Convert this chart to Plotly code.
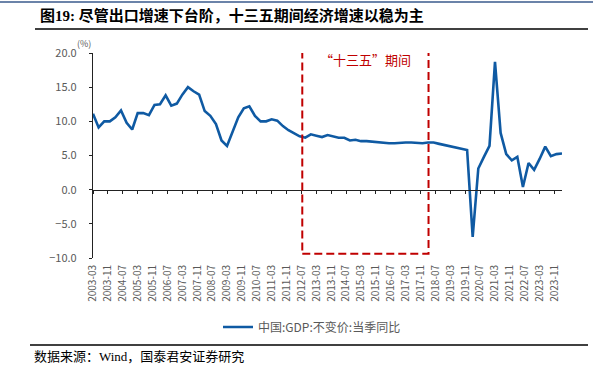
import plotly.graph_objects as go

# ---------------- data ----------------
years = list(range(2003, 2025))
quarter_months = ["03", "06", "09", "12"]
quarters = [f"{y}-{m}" for y in years for m in quarter_months][:85]  # 2003-03 .. 2024-03

gdp_yoy = [
    11.1, 9.1, 10.0, 10.0,      # 2003
    10.6, 11.6, 9.8, 8.8,       # 2004
    11.2, 11.2, 10.9, 12.4,     # 2005
    12.5, 13.8, 12.3, 12.6,     # 2006
    13.9, 15.0, 14.4, 13.9,     # 2007
    11.5, 10.8, 9.6, 7.2,       # 2008
    6.4, 8.4, 10.6, 11.9,       # 2009
    12.2, 10.8, 10.0, 10.0,     # 2010
    10.3, 10.1, 9.3, 8.7,       # 2011
    8.2, 7.8, 7.6, 8.1,         # 2012
    7.9, 7.7, 8.0, 7.8,         # 2013
    7.6, 7.6, 7.2, 7.3,         # 2014
    7.1, 7.1, 7.0, 6.9,         # 2015
    6.9, 6.8, 6.8, 6.9,         # 2016
    6.9, 6.9, 6.8, 6.8,         # 2017
    6.9, 6.9, 6.7, 6.5,         # 2018
    6.3, 6.1, 5.9, 5.8,         # 2019
    -6.9, 3.1, 4.8, 6.4,        # 2020
    18.7, 8.3, 5.2, 4.3,        # 2021
    4.8, 0.4, 3.9, 2.9,         # 2022
    4.5, 6.3, 4.9, 5.2,         # 2023
    5.3,                        # 2024
]

x_tick_labels = [
    "2003-03", "2003-11", "2004-07", "2005-03", "2005-11", "2006-07", "2007-03",
    "2007-11", "2008-07", "2009-03", "2009-11", "2010-07", "2011-03", "2011-11",
    "2012-07", "2013-03", "2013-11", "2014-07", "2015-03", "2015-11", "2016-07",
    "2017-03", "2017-11", "2018-07", "2019-03", "2019-11", "2020-07", "2021-03",
    "2021-11", "2022-07", "2023-03", "2023-11",
]
y_ticks = [-10, -5, 0, 5, 10, 15, 20]

series_name = "中国:GDP:不变价:当季同比"
title_text = "图19: 尽管出口增速下台阶，十三五期间经济增速以稳为主"
source_text = "数据来源：Wind，国泰君安证券研究"
box_label = "“十三五”期间"

# ---------------- style ----------------
LINE_BLUE = "#0F5AA3"
GRAY = "#595959"
RED = "#C00000"
CJK = "Noto Sans CJK SC"
SERIF_CJK = "Liberation Serif, Noto Sans CJK SC"

x_range = ["2003-03-01", "2024-03-01"]
y_range = [-10, 20]
zero_pos = (0 - y_range[0]) / (y_range[1] - y_range[0])

fig = go.Figure()

fig.add_trace(go.Scatter(
    x=quarters, y=gdp_yoy, mode="lines", name=series_name,
    line=dict(color=LINE_BLUE, width=2.6),
    xaxis="x", yaxis="y", showlegend=True,
))
# invisible twin so that the bottom label axis is drawn
fig.add_trace(go.Scatter(
    x=quarters, y=gdp_yoy, mode="lines", line=dict(width=0),
    opacity=0, xaxis="x2", yaxis="y", showlegend=False, hoverinfo="skip",
))

W, H = 593, 375
L, R, T, B = 93, 31, 53, 117
pw, ph = W - L - R, H - T - B


def px(xp):
    return (xp - L) / pw


def py(yp):
    return (H - B - yp) / ph


fig.update_layout(
    width=W, height=H,
    margin=dict(l=L, r=R, t=T, b=B, pad=0),
    paper_bgcolor="white", plot_bgcolor="white",
    font=dict(family=CJK, color=GRAY),
    xaxis=dict(
        type="date", range=x_range, anchor="free", position=zero_pos,
        showline=True, linecolor="#222222", linewidth=1.2,
        ticks="outside", ticklen=3, tickcolor="#222222", tickwidth=1,
        tickvals=x_tick_labels, showticklabels=False,
        showgrid=False, zeroline=False,
    ),
    xaxis2=dict(
        type="date", range=x_range, overlaying="x", anchor="y", side="bottom",
        showline=False, ticks="", tickvals=x_tick_labels, ticktext=x_tick_labels,
        tickangle=-90, tickfont=dict(size=10, color=GRAY, family=CJK),
        ticklabelstandoff=4, showgrid=False, zeroline=False,
    ),
    yaxis=dict(
        range=y_range, tickvals=y_ticks, tickformat=".1f",
        showline=True, linecolor="#222222", linewidth=1.2,
        ticks="outside", ticklen=3, tickcolor="#222222",
        tickfont=dict(size=11, color=GRAY, family=CJK),
        ticklabelstandoff=10, showgrid=False, zeroline=False,
    ),
    legend=dict(
        orientation="h", x=px(218), xanchor="left", y=py(327), yanchor="middle",
        font=dict(size=12, color=GRAY, family=CJK), itemwidth=30,
        bgcolor="rgba(0,0,0,0)",
    ),
    shapes=[
        # dashed box marking the period
        dict(type="rect", xref="x", yref="y", x0="2012-07-14", x1="2018-03-10",
             y0=-9.37, y1=21.26, line=dict(color=RED, width=2, dash="8px,4px"),
             fillcolor="rgba(0,0,0,0)"),
        # top rule
        dict(type="line", xref="paper", yref="paper", x0=px(0), x1=px(593),
             y0=py(2), y1=py(2), line=dict(color="#3A5A8C", width=1.5)),
        # title underline
        dict(type="line", xref="paper", yref="paper", x0=px(35), x1=px(588),
             y0=py(29), y1=py(29), line=dict(color="black", width=1.5)),
        # source rule
        dict(type="line", xref="paper", yref="paper", x0=px(30), x1=px(588),
             y0=py(345), y1=py(345), line=dict(color="black", width=1.5)),
    ],
    annotations=[
        dict(text=f"<b>{title_text}</b>", xref="paper", yref="paper",
             x=px(38), y=py(15), xanchor="left", yanchor="middle",
             showarrow=False, font=dict(size=15, color="black", family=SERIF_CJK)),
        dict(text="(%)", xref="paper", yref="paper", x=px(84), y=py(44),
             xanchor="center", yanchor="middle", showarrow=False,
             font=dict(size=9, color=GRAY, family=CJK)),
        dict(text=box_label, xref="paper", yref="paper", x=px(365), y=py(59),
             xanchor="center", yanchor="middle", showarrow=False,
             font=dict(size=13, color=RED, family=CJK)),
        dict(text=source_text, xref="paper", yref="paper", x=px(32), y=py(356),
             xanchor="left", yanchor="middle", showarrow=False,
             font=dict(size=13, color="black", family=SERIF_CJK)),
    ],
)

fig.write_html(
    "out.html",
    config={"displayModeBar": False},
    post_script="document.body.style.margin='0';document.body.style.padding='0';",
)
